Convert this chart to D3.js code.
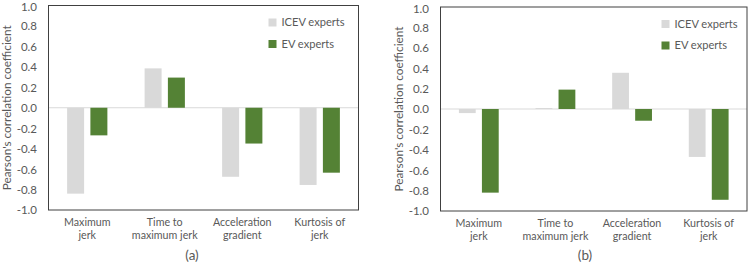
<!DOCTYPE html>
<html><head><meta charset="utf-8">
<script src="https://cdn.jsdelivr.net/npm/d3@7"></script>
<style>body{margin:0;background:#fff}svg{display:block}text{font-family:Lato,"Open Sans",sans-serif;fill:#595959}</style>
</head><body>
<svg id="c" width="750" height="267"></svg>
<script>
const categories = ["Maximum\njerk", "Time to\nmaximum jerk", "Acceleration\ngradient", "Kurtosis of\njerk"];
const seriesNames = ["ICEV experts", "EV experts"];
const seriesColors = ["#d9d9d9", "#548235"];
const icevA = [-0.84, 0.385, -0.675, -0.755];
const evA = [-0.27, 0.295, -0.35, -0.635];
const icevB = [-0.04, 0.01, 0.355, -0.47];
const evB = [-0.82, 0.19, -0.115, -0.89];
const yTicks = [1.0, 0.8, 0.6, 0.4, 0.2, 0.0, -0.2, -0.4, -0.6, -0.8, -1.0];
const panelLabels = ["(a)", "(b)"];
const yTitle = "Pearson's correlation coefficient";

const svg = d3.select("#c");

function panel(cfg, series, label) {
  const g = svg.append("g");
  const x = d3.scaleBand().domain(categories).range([cfg.left, cfg.right]).paddingInner(0).paddingOuter(0);
  const y = d3.scaleLinear().domain([-1, 1]).range([cfg.bottom, cfg.top]);
  const inner = d3.scaleBand().domain(seriesNames).range([0, x.bandwidth()]).paddingInner(0.27).paddingOuter(0.8);

  g.append("line").attr("x1", cfg.left).attr("x2", cfg.right)
    .attr("y1", y(0)).attr("y2", y(0)).attr("stroke", "#d9d9d9").attr("stroke-width", 1);

  series.forEach((vals, si) => {
    g.selectAll(null).data(vals).enter().append("rect")
      .attr("x", (d, i) => x(categories[i]) + inner(seriesNames[si]))
      .attr("width", inner.bandwidth())
      .attr("y", d => Math.min(y(d), y(0)))
      .attr("height", d => Math.abs(y(d) - y(0)))
      .attr("fill", seriesColors[si]);
  });

  g.append("rect").attr("x", cfg.left).attr("y", cfg.top)
    .attr("width", cfg.right - cfg.left).attr("height", cfg.bottom - cfg.top)
    .attr("fill", "none").attr("stroke", "#404040").attr("stroke-width", 1);

  const ya = d3.axisLeft(y).tickValues(yTicks).tickFormat(d => d3.format(".1f")(d).replace("−", "-")).tickSize(0).tickPadding(11.5);
  const ax = g.append("g").attr("transform", `translate(${cfg.left},0)`).call(ya);
  ax.select(".domain").remove();
  ax.selectAll("text").attr("font-size", 11.5).attr("fill", "#595959")
    .style("font-family", "Lato, 'Open Sans', sans-serif")
    .attr("dy", (d) => d === 1 ? "0.45em" : "0.34em");

  g.append("text").attr("transform", `translate(${cfg.titleX},${(cfg.top + cfg.bottom) / 2}) rotate(-90)`)
    .attr("text-anchor", "middle").attr("dy", "0.35em").attr("font-size", 11.8).text(yTitle);

  categories.forEach(c => {
    const lines = c.split("\n");
    const cx = x(c) + x.bandwidth() / 2;
    const t = g.append("text").attr("text-anchor", "middle").attr("font-size", 10.7)
      .attr("x", cx).attr("y", cfg.bottom + 15.5);
    lines.forEach((l, i) => t.append("tspan").attr("x", cx).attr("dy", i ? 13.5 : 0).text(l));
  });

  g.append("text").attr("text-anchor", "middle").attr("font-size", 13.5)
    .attr("x", cfg.labelX).attr("y", 259.5).text(label);

  seriesNames.forEach((s, i) => {
    g.append("rect").attr("x", cfg.legX).attr("y", cfg.legY + i * 21.5 - 4).attr("width", 8).attr("height", 8).attr("fill", seriesColors[i]);
    g.append("text").attr("x", cfg.legX + 13).attr("y", cfg.legY + i * 21.5).attr("dy", "0.36em")
      .attr("font-size", 11.1).text(s);
  });
}

panel({left: 48.5, right: 358.5, top: 5.5, bottom: 210, titleX: 6.5, labelX: 192, legX: 268.5, legY: 22.5}, [icevA, evA], panelLabels[0]);
panel({left: 440.5, right: 747, top: 7, bottom: 211, titleX: 399, labelX: 585, legX: 661.5, legY: 24}, [icevB, evB], panelLabels[1]);
</script>
</body></html>
